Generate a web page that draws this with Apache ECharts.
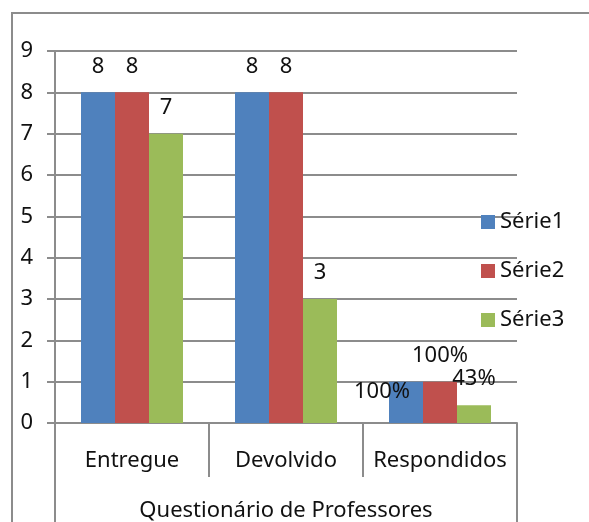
<!DOCTYPE html>
<html>
<head>
<meta charset="utf-8">
<script src="https://cdn.jsdelivr.net/npm/echarts@6/dist/echarts.min.js"></script>
<style>
  html, body { margin: 0; padding: 0; background: #fff; }
  #chart { width: 589px; height: 522px; }
</style>
</head>
<body>
<div id="chart"></div>
<script>
// dados do gráfico
var categories = ['Entregue', 'Devolvido', 'Respondidos'];
var groupTitle = ['Questionário de Professores'];
var serie1 = [8, 8, 1];
var serie2 = [8, 8, 1];
var serie3 = [7, 3, 0.43];
var labels1 = ['8', '8', '100%'];
var labels2 = ['8', '8', '100%'];
var labels3 = ['7', '3', '43%'];
var seriesNames = ['Série1', 'Série2', 'Série3'];

var font = 'Noto Sans';
var fsize = 22;
var gray = '#8c8c8c';

function makeSeries(name, values, labels, color, offsets) {
  return {
    name: name,
    type: 'bar',
    barWidth: 34,
    barGap: 0,
    itemStyle: { color: color },
    label: {
      show: true,
      position: 'top',
      distance: 15,
      fontFamily: font,
      fontSize: fsize,
      color: '#111',
      formatter: function (p) { return labels[p.dataIndex]; }
    },
    data: values.map(function (v, i) {
      var item = { value: v };
      if (offsets && offsets[i]) item.label = { offset: offsets[i] };
      return item;
    })
  };
}

var myChart = echarts.init(document.getElementById('chart'));

var option = {
  animation: false,
  textStyle: { fontFamily: font },
  graphic: [{
    type: 'rect',
    shape: { x: 12, y: 13, width: 620, height: 540 },
    style: { fill: 'none', stroke: gray, lineWidth: 2 },
    silent: true
  }],
  grid: { left: 55, right: 72, top: 51, bottom: 98 },
  legend: {
    orient: 'vertical',
    left: 476,
    top: 206,
    itemWidth: 14,
    itemHeight: 14,
    itemGap: 27,
    icon: 'rect',
    textStyle: { fontFamily: font, fontSize: fsize, color: '#111' },
    data: seriesNames
  },
  xAxis: [{
    type: 'category',
    data: categories,
    axisLine: { lineStyle: { color: gray, width: 2 } },
    axisTick: { show: true, length: 54, interval: 0, lineStyle: { color: gray, width: 2 } },
    axisLabel: { margin: 27, fontFamily: font, fontSize: fsize, color: '#111', interval: 0 }
  }, {
    type: 'category',
    data: groupTitle,
    position: 'bottom',
    axisLine: { show: false },
    axisTick: { show: true, length: 110, lineStyle: { color: gray, width: 2 } },
    axisLabel: { margin: 77, fontFamily: font, fontSize: fsize, color: '#111' }
  }],
  yAxis: {
    type: 'value',
    min: 0,
    max: 9,
    interval: 1,
    axisLine: { show: true, lineStyle: { color: gray, width: 2 } },
    axisTick: { show: true, length: 8, lineStyle: { color: gray, width: 2 } },
    axisLabel: { margin: 22, fontFamily: font, fontSize: fsize, color: '#111' },
    splitLine: { lineStyle: { color: gray, width: 2 } }
  },
  series: [
    makeSeries(seriesNames[0], serie1, labels1, '#4F81BD', [null, null, [-24, 36]]),
    makeSeries(seriesNames[1], serie2, labels2, '#C0504D'),
    makeSeries(seriesNames[2], serie3, labels3, '#9BBB59')
  ]
};

myChart.setOption(option);
window.addEventListener('resize', function () {
  myChart.resize();
});
</script>
</body>
</html>
